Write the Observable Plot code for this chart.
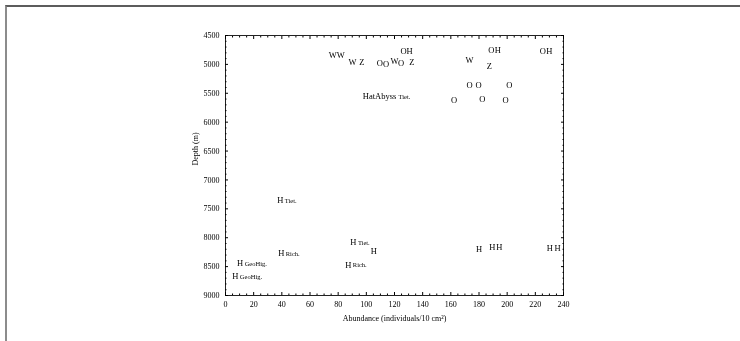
<!DOCTYPE html>
<html>
<head>
<meta charset="utf-8">
<script src="https://cdn.jsdelivr.net/npm/d3@7"></script>
<script src="https://cdn.jsdelivr.net/npm/@observablehq/plot@0.6"></script>
<style>
  html, body { margin: 0; padding: 0; background: #fff; }
  #wrap { position: relative; width: 740px; height: 341px; overflow: hidden; }
  #wrap svg { position: absolute; left: 0; top: 0; will-change: transform; }
  #edge {
    position: absolute; left: 5px; top: 5px; right: 0; bottom: 0;
    border-top: 2px solid #5c5c5c; border-left: 2px solid #8c8c8c;
    pointer-events: none;
  }
</style>
</head>
<body>
<div id="wrap"><div id="edge"></div></div>
<script>
// Station markers: letter code, abundance (individuals/10 cm²), depth (m), and optional tag
const markers = [
  "W", "W", "W", "Z", "O", "O", "W", "O", "Z", "O", "H",
  "W", "O", "H", "Z", "O", "H",
  "O", "O", "O", "O", "O", "O",
  "HatAbyss",
  "H", "H", "H", "H", "H", "H", "H",
  "H", "H", "H", "H", "H"
];
const abundance = [
  76.1, 81.8, 90.2, 96.9, 109.6, 114.0, 120.0, 124.7, 132.4, 126.4, 130.7,
  173.3, 188.7, 193.4, 187.4, 225.3, 230.0,
  173.3, 179.7, 201.5, 162.3, 182.4, 198.8,
  109.4,
  38.9, 90.8, 105.3, 39.6, 87.2, 10.4, 7.0,
  180.0, 189.4, 194.4, 230.3, 235.7
];
const depth = [
  4834, 4845, 4955, 4955, 4989, 5001, 4949, 4978, 4955, 4776, 4776,
  4926, 4759, 4759, 5024, 4776, 4776,
  5369, 5369, 5363, 5622, 5599, 5622,
  5559,
  7354, 8079, 8229, 8269, 8470, 8441, 8666,
  8200, 8171, 8171, 8183, 8183
];
const tags = [
  "", "", "", "", "", "", "", "", "", "", "",
  "", "", "", "", "", "",
  "", "", "", "", "", "",
  "Tiet.",
  "Tiet.", "Tiet.", "", "Rich.", "Rich.", "GeoHig.", "GeoHig.",
  "", "", "", "", ""
];

// Axis ticks
const xTicks = [0, 20, 40, 60, 80, 100, 120, 140, 160, 180, 200, 220, 240];
const yTicks = [4500, 5000, 5500, 6000, 6500, 7000, 7500, 8000, 8500, 9000];
const xMinor = d3.range(0, 241, 5).filter(v => v % 20 !== 0);
const yMinor = d3.range(4500, 9001, 100).filter(v => v % 500 !== 0);

const stations = markers.map((m, i) => ({
  marker: m, abundance: abundance[i], depth: depth[i], tag: tags[i]
}));
const tagged = stations.filter(d => d.tag && d.marker === "H");
const taggedLong = stations.filter(d => d.tag && d.marker !== "H");

const serif = "Liberation Serif, Times New Roman, serif";
const blank = () => "";
const plain = d3.format("d");

const chart = Plot.plot({
  width: 740,
  height: 341,
  marginLeft: 225,
  marginRight: 177,
  marginTop: 35,
  marginBottom: 46,
  style: { fontFamily: serif, fontSize: "8px", background: "transparent", color: "#000" },
  x: { domain: [0, 240] },
  y: { domain: [4500, 9000], reverse: true },
  marks: [
    Plot.frame({ stroke: "#222" }),
    // tick labels
    Plot.axisX(xTicks, { anchor: "bottom", tickSize: 0, tickPadding: 6, tickFormat: plain, label: null, fontSize: 8, fill: "#000" }),
    Plot.axisY(yTicks, { anchor: "left", tickSize: 0, tickPadding: 6, tickFormat: plain, label: null, fontSize: 8, fill: "#000" }),
    // inward tick marks on all four sides
    Plot.axisX(xTicks, { anchor: "bottom", tickSize: -3, tickFormat: blank, label: null }),
    Plot.axisX(xTicks, { anchor: "top", tickSize: -3, tickFormat: blank, label: null }),
    Plot.axisY(yTicks, { anchor: "left", tickSize: -3, tickFormat: blank, label: null }),
    Plot.axisY(yTicks, { anchor: "right", tickSize: -3, tickFormat: blank, label: null }),
    Plot.axisX(xMinor, { anchor: "bottom", tickSize: -1.5, tickFormat: blank, label: null }),
    Plot.axisX(xMinor, { anchor: "top", tickSize: -1.5, tickFormat: blank, label: null }),
    Plot.axisY(yMinor, { anchor: "left", tickSize: -1.5, tickFormat: blank, label: null }),
    Plot.axisY(yMinor, { anchor: "right", tickSize: -1.5, tickFormat: blank, label: null }),
    // axis titles
    Plot.text(["Depth (m)"], {
      frameAnchor: "left", dx: -30, rotate: -90, text: d => d,
      fontSize: 8, fill: "#000"
    }),
    Plot.text(["Abundance (individuals/10 cm²)"], {
      frameAnchor: "bottom", dy: 25, text: d => d,
      fontSize: 8, fill: "#000"
    }),
    // station letter markers
    Plot.text(stations, {
      x: "abundance", y: "depth", text: "marker",
      fontSize: 8.5, fill: "#000", lineAnchor: "middle"
    }),
    // small tags next to the markers
    Plot.text(tagged, {
      x: "abundance", y: "depth", text: "tag",
      textAnchor: "start", dx: 4.5, dy: 0.5, fontSize: 6.5, fill: "#000", lineAnchor: "middle"
    }),
    Plot.text(taggedLong, {
      x: "abundance", y: "depth", text: "tag",
      textAnchor: "start", dx: 19, dy: 0.5, fontSize: 6.5, fill: "#000", lineAnchor: "middle"
    })
  ]
});

document.getElementById("wrap").appendChild(chart);
</script>
</body>
</html>
